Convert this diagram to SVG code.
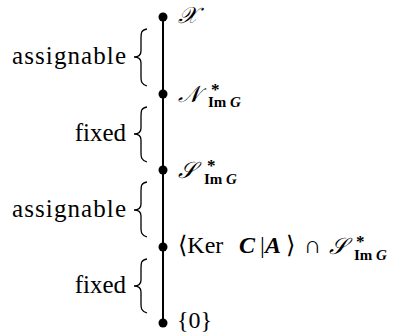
<svg xmlns="http://www.w3.org/2000/svg" width="394" height="335" viewBox="0 0 394 335">
<style>
.dot{fill:#000}
.edge{stroke:#000;stroke-width:2;fill:none}
.brace{stroke:#000;stroke-width:1.3;fill:none}
.lbl{font-family:'Liberation Serif','Times New Roman',serif;font-size:25px;fill:#000}
.m{font-family:'Liberation Serif','Times New Roman','DejaVu Serif',serif;font-size:24px;fill:#000}
.scr{font-family:'DejaVu Serif','DejaVu Sans','Noto Sans',serif;font-style:italic;font-size:23px;fill:#000}
.sub{font-family:'Liberation Serif','Times New Roman',serif;font-size:15px;font-weight:bold;fill:#000}
.sup{font-size:17px}
</style>
<g id="connectors">
<line class="edge" x1="163" y1="17" x2="163" y2="94"/>
<line class="edge" x1="163" y1="94" x2="163" y2="170"/>
<line class="edge" x1="163" y1="170" x2="163" y2="247"/>
<line class="edge" x1="163" y1="247" x2="163" y2="323"/>
</g>
<g id="n-X">
<circle class="dot" cx="163" cy="17" r="4.5"/>
<text class="scr" x="178" y="23">𝒳</text>
</g>
<g id="n-N">
<circle class="dot" cx="163" cy="94" r="4.5"/>
<text class="scr" x="178" y="102">𝒩</text>
<text class="sub"><tspan class="sup" x="211" y="95">*</tspan><tspan x="208" y="107">Im <tspan font-style="italic">G</tspan></tspan></text>
</g>
<g id="n-S">
<circle class="dot" cx="163" cy="170" r="4.5"/>
<text class="scr" x="178" y="178">𝒮</text>
<text class="sub"><tspan class="sup" x="207" y="171">*</tspan><tspan x="204" y="184">Im <tspan font-style="italic">G</tspan></tspan></text>
</g>
<g id="n-K">
<circle class="dot" cx="163" cy="247" r="4.5"/>
<text class="m" y="253" font-size="25"><tspan x="178">⟨Ker</tspan><tspan x="239" font-style="italic" font-weight="bold">C</tspan><tspan x="260">|</tspan><tspan x="265" font-style="italic" font-weight="bold">A</tspan><tspan x="286">⟩</tspan><tspan x="304">∩</tspan></text>
<text class="scr" x="329" y="254">𝒮</text>
<text class="sub"><tspan class="sup" x="356" y="247">*</tspan><tspan x="354" y="260">Im <tspan font-style="italic">G</tspan></tspan></text>
</g>
<g id="n-0">
<circle class="dot" cx="163" cy="323" r="4.5"/>
<text class="m" x="177" y="328" font-size="22">{0}</text>
</g>
<g id="b1">
<path class="brace" d="M147,29 C141,30 141,33 141,38 L141,51 C141,55 139,57 134,57 C139,57 141,59 141,63 L141,77 C141,81 141,84 147,86"/>
<text class="lbl" x="126" y="64" text-anchor="end" textLength="114" lengthAdjust="spacing">assignable</text>
</g>
<g id="b2">
<path class="brace" d="M147,107 C141,108 141,111 141,116 L141,128 C141,132 139,134 134,134 C139,134 141,136 141,140 L141,153 C141,157 141,160 147,162"/>
<text class="lbl" x="126" y="141" text-anchor="end">fixed</text>
</g>
<g id="b3">
<path class="brace" d="M147,182 C141,183 141,186 141,191 L141,204 C141,208 139,210 134,210 C139,210 141,212 141,216 L141,228 C141,232 141,235 147,237"/>
<text class="lbl" x="126" y="217" text-anchor="end" textLength="114" lengthAdjust="spacing">assignable</text>
</g>
<g id="b4">
<path class="brace" d="M147,259 C141,260 141,263 141,268 L141,280 C141,284 139,286 134,286 C139,286 141,288 141,292 L141,304 C141,308 141,311 147,313"/>
<text class="lbl" x="126" y="293" text-anchor="end">fixed</text>
</g>
</svg>
